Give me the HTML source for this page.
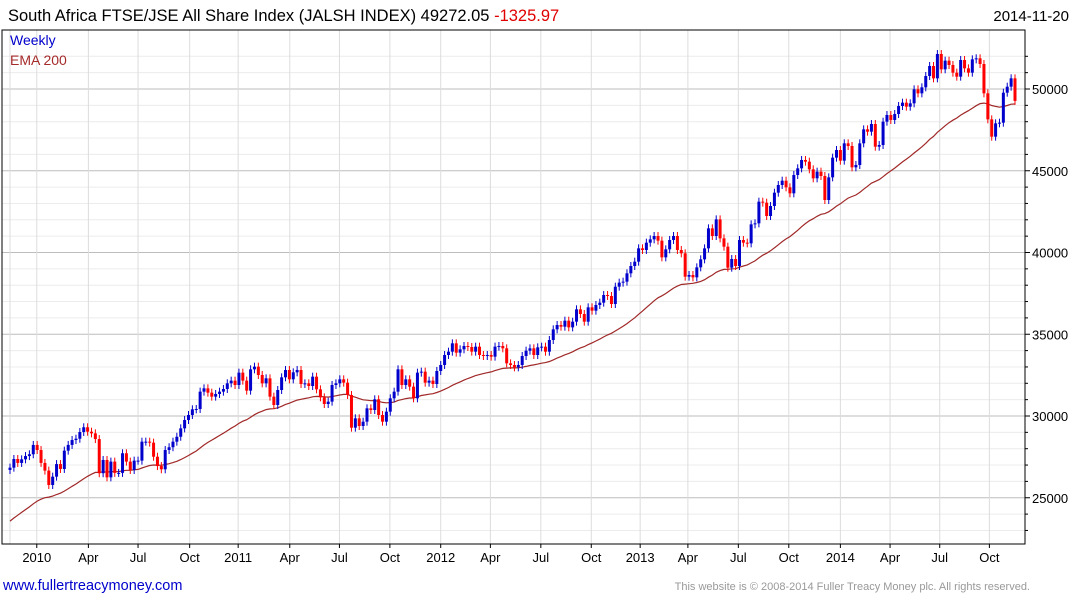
<!DOCTYPE html>
<html><head><meta charset="utf-8"><style>
body{margin:0;background:#fff;width:1075px;height:600px;overflow:hidden;font-family:"Liberation Sans",Arial,sans-serif}
svg{position:absolute;left:0;top:0}
</style></head><body>
<svg id="chart" width="1075" height="600" xmlns="http://www.w3.org/2000/svg">
<text x="8" y="21" font-size="16.5" fill="#000">South Africa FTSE/JSE All Share Index (JALSH INDEX) 49272.05 <tspan fill="#e00000">-1325.97</tspan></text>
<text x="1069" y="21" font-size="15" text-anchor="end" fill="#000">2014-11-20</text>
<g id="grid"></g>
<g id="ema"></g>
<g id="candles"></g>
<g id="axes"></g>
<text x="10" y="45" font-size="14" fill="#0000cc">Weekly</text>
<text x="10" y="65" font-size="14" fill="#a52a2a">EMA 200</text>
<text x="3" y="590" font-size="14.5" fill="#0000cc">www.fullertreacymoney.com</text>
<text x="1030" y="590" font-size="11" text-anchor="end" fill="#999">This website is © 2008-2014 Fuller Treacy Money plc. All rights reserved.</text>
</svg>
<script>
const closes=[26840,27370,27130,27350,27550,27660,28230,27920,27130,26660,25780,26290,27060,26760,27880,28230,28530,28610,29020,29310,29040,28940,28590,26500,27310,26250,27210,26520,26520,27720,27210,26700,27270,27270,28430,28430,28370,27510,26940,26740,27920,28090,28430,28730,
29245,29755,30061,30408,30429,31489,31692,31428,31183,31346,31489,31652,32000,32162,31896,32651,32162,31550,32855,33018,32508,31998,32304,31183,30673,31590,32365,32814,32243,32671,32814,31958,31998,31835,32406,31631,31142,30734,30877,31897,31998,32243,32039,31284,
29286,29857,29388,29653,30469,30367,31020,30061,29653,30265,31081,31488,32855,31896,32243,31794,31081,32651,32712,32039,32162,31957,32753,33120,33731,33935,34445,33874,34078,34282,34220,33935,34241,33731,33670,33731,33630,34241,34282,34139,33222,33120,32977,33120,
33669,33995,34138,33730,34199,34240,33934,34648,35300,35565,35463,35830,35422,35769,36524,36238,35769,36646,36442,36789,36931,37400,37339,36850,37910,38155,38216,38726,39174,39439,40255,40153,40601,40805,41009,40724,39704,40194,40765,41009,40153,39949,38522,38624,
38480,39092,39581,40254,41477,41009,42027,40866,40356,39072,39602,39174,40764,40601,40560,41722,41783,43109,43048,42232,42844,43659,44128,44393,43986,43619,44740,45148,45658,45555,45087,44536,44944,44679,43211,44597,45800,46269,45617,46677,46514,45209,45352,46677,
47532,47390,47859,46472,46574,48001,48409,48103,48470,48960,49164,48919,49123,49979,49735,50102,50795,51407,50652,52141,51203,51733,51468,50999,50754,51774,51264,50999,51814,51876,51529,49735,48144,47084,47900,47940,49775,50142,50652,49272.05];
const firstOpen=26700;
const emaSeed=23400;
const emaAlpha=0.05;
const yTicks=[25000,30000,35000,40000,45000,50000];
const xTickIdx=[6.9,20.2,33,46.3,58.8,72.1,84.9,97.9,111,123.8,136.8,149.8,162.4,174.7,187.7,200.7,214,226.8,239.6,252.4];
const xTickLabels=["2010","Apr","Jul","Oct","2011","Apr","Jul","Oct","2012","Apr","Jul","Oct","2013","Apr","Jul","Oct","2014","Apr","Jul","Oct"];

const NS="http://www.w3.org/2000/svg";
const L=2,R=1025,T=30,B=544;
const X0=10,X1=1015;
const xs=i=>X0+(X1-X0)*i/(closes.length-1);
const ys=v=>89+(50000-v)*0.01635;
function mk(tag,attrs,parent){const e=document.createElementNS(NS,tag);for(const k in attrs)e.setAttribute(k,attrs[k]);parent.appendChild(e);return e;}
const grid=document.getElementById('grid'),axes=document.getElementById('axes'),cg=document.getElementById('candles'),eg=document.getElementById('ema');
for(let v=23000;v<=52000;v+=1000){const y=ys(v);if(y<T||y>B)continue;
 const major=v%5000===0;
 const ln=mk('line',{x1:L,x2:R,y1:y,y2:y,stroke:major?'#bdbdbd':'#ececec','stroke-width':1},grid);
 
 
 const tk=mk('line',{x1:R,x2:R+(major?5:3),y1:y,y2:y,stroke:'#000'},axes);
 
 
}
mk('line',{x1:X0,x2:X0,y1:T,y2:B,stroke:'#dcdcdc'},grid);
xTickIdx.forEach((ix,k)=>{const x=xs(ix);
 const g=mk('line',{x1:x,x2:x,y1:T,y2:B,stroke:'#dcdcdc'},grid);
 
 
 mk('line',{x1:x,x2:x,y1:B,y2:B+4,stroke:'#000'},axes);
 const t=mk('text',{x:x,y:562,'font-size':13,'text-anchor':'middle',fill:'#000'},axes);
 t.textContent=xTickLabels[k];
 
 
});
yTicks.forEach(v=>{const t=mk('text',{x:1032,y:ys(v)+5,'font-size':13,fill:'#000'},axes);
 t.textContent=v;
 
 
});
const fr=mk('rect',{x:L,y:T,width:R-L,height:B-T,fill:'none',stroke:'#000','stroke-width':1},axes);


let e=emaSeed,pts=[];
closes.forEach((c,i)=>{e=e+emaAlpha*(c-e);pts.push(xs(i).toFixed(1)+','+ys(e).toFixed(1));});
const pl=mk('polyline',{points:pts.join(' '),fill:'none',stroke:'#a02828','stroke-width':1.2},eg);


closes.forEach((c,i)=>{const o=i?closes[i-1]:firstOpen;const up=c>=o;const col=up?'#0000cc':'#ff0000';
 const x=xs(i);const yt=ys(Math.max(o,c)),yb=ys(Math.min(o,c));
 const g=mk('g',{},cg);
 
 
 mk('line',{x1:x,x2:x,y1:yt-4,y2:yb+4,stroke:col,'stroke-width':1},g);
 mk('rect',{x:x-1.5,y:yt,width:3,height:Math.max(1,yb-yt),fill:col},g);
});
</script>
</body></html>
